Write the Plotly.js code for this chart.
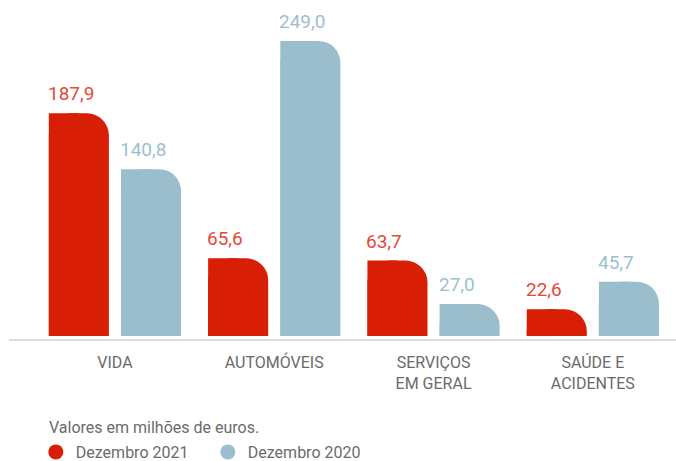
<!DOCTYPE html>
<html>
<head>
<meta charset="utf-8">
<script src="https://cdn.plot.ly/plotly-3.0.1.min.js"></script>
<style>
html,body{margin:0;padding:0;background:#fff;}
#chart{width:676px;height:461px;}
</style>
</head>
<body>
<div id="chart"></div>
<script>
// ---- data ----
const categories = ['VIDA', 'AUTOMÓVEIS', 'SERVIÇOS<br>EM GERAL', 'SAÚDE E<br>ACIDENTES'];
const series2021 = [187.9, 65.6, 63.7, 22.6];
const series2020 = [140.8, 249.0, 27.0, 45.7];
const seriesNames = ['Dezembro 2021', 'Dezembro 2020'];
const noteText = 'Valores em milhões de euros.';

// ---- styles ----
const RED = '#d81e05', RED_TXT = '#e5493a';
const BLUE = '#9bbecd', BLUE_TXT = '#9bbfd0';
const FONT = 'Roboto, sans-serif';
const GREY = '#6b6b6b';
const BAR_W = 0.377;
const OFFS = [-0.415, 0.038];
const RADIUS = '38%';

function fmt(v){ return v.toFixed(1).replace('.', ','); }

const traces = [];
const seriesList = [series2021, series2020];
const colors = [RED, BLUE];
const txtColors = [RED_TXT, BLUE_TXT];
seriesList.forEach((vals, s) => {
  // full bar with rounded top corners
  traces.push({
    type: 'bar', x: categories, y: vals, offset: OFFS[s], width: BAR_W,
    marker: {color: colors[s], cornerradius: RADIUS, line: {width: 0}},
    showlegend: false, hoverinfo: 'skip'
  });
  // left half, square corner (so only top-right looks rounded)
  traces.push({
    type: 'bar', x: categories, y: vals, offset: OFFS[s], width: BAR_W / 2,
    marker: {color: colors[s], line: {width: 0}},
    showlegend: false, hoverinfo: 'skip'
  });
});
// legend entries (circles)
seriesNames.forEach((n, s) => {
  traces.push({
    type: 'scatter', mode: 'markers', x: [null], y: [null], name: n,
    marker: {color: colors[s], size: 15, symbol: 'circle'}
  });
});

const annotations = [];
seriesList.forEach((vals, s) => {
  vals.forEach((v, i) => {
    annotations.push({
      x: i + OFFS[s], y: v, xref: 'x', yref: 'y',
      text: fmt(v), showarrow: false,
      xanchor: 'left', yanchor: 'bottom', xshift: -3, yshift: 6,
      font: {family: FONT, size: 19, color: txtColors[s]}
    });
  });
});
annotations.push({
  x: 0.057, y: -0.2625, xref: 'paper', yref: 'paper',
  text: noteText, showarrow: false, xanchor: 'left', yanchor: 'middle',
  font: {family: FONT, size: 16, color: GREY}
});

const layout = {
  width: 676, height: 461,
  margin: {l: 9, r: 0, t: 0, b: 122},
  paper_bgcolor: '#ffffff', plot_bgcolor: '#ffffff',
  barmode: 'overlay',
  showlegend: true,
  xaxis: {
    type: 'category', range: [-0.665, 3.522],
    showline: true, linecolor: '#dcdcdc', linewidth: 2,
    showgrid: false, zeroline: false, ticks: '',
    ticklabelstandoff: 8, automargin: false,
    tickfont: {family: FONT, size: 16, color: GREY},
    fixedrange: true
  },
  yaxis: {
    range: [-2.5, 283.5], visible: false, showgrid: false, zeroline: false, fixedrange: true
  },
  legend: {
    orientation: 'h',
    xref: 'container', yref: 'container',
    x: 0.053, xanchor: 'left', y: 0.0564, yanchor: 'top',
    font: {family: FONT, size: 16, color: GREY},
    itemwidth: 30,
    entrywidth: 127, entrywidthmode: 'pixels',
    itemclick: false, itemdoubleclick: false
  },
  annotations: annotations
};

Plotly.newPlot('chart', traces, layout, {displayModeBar: false, staticPlot: true});
</script>
</body>
</html>
